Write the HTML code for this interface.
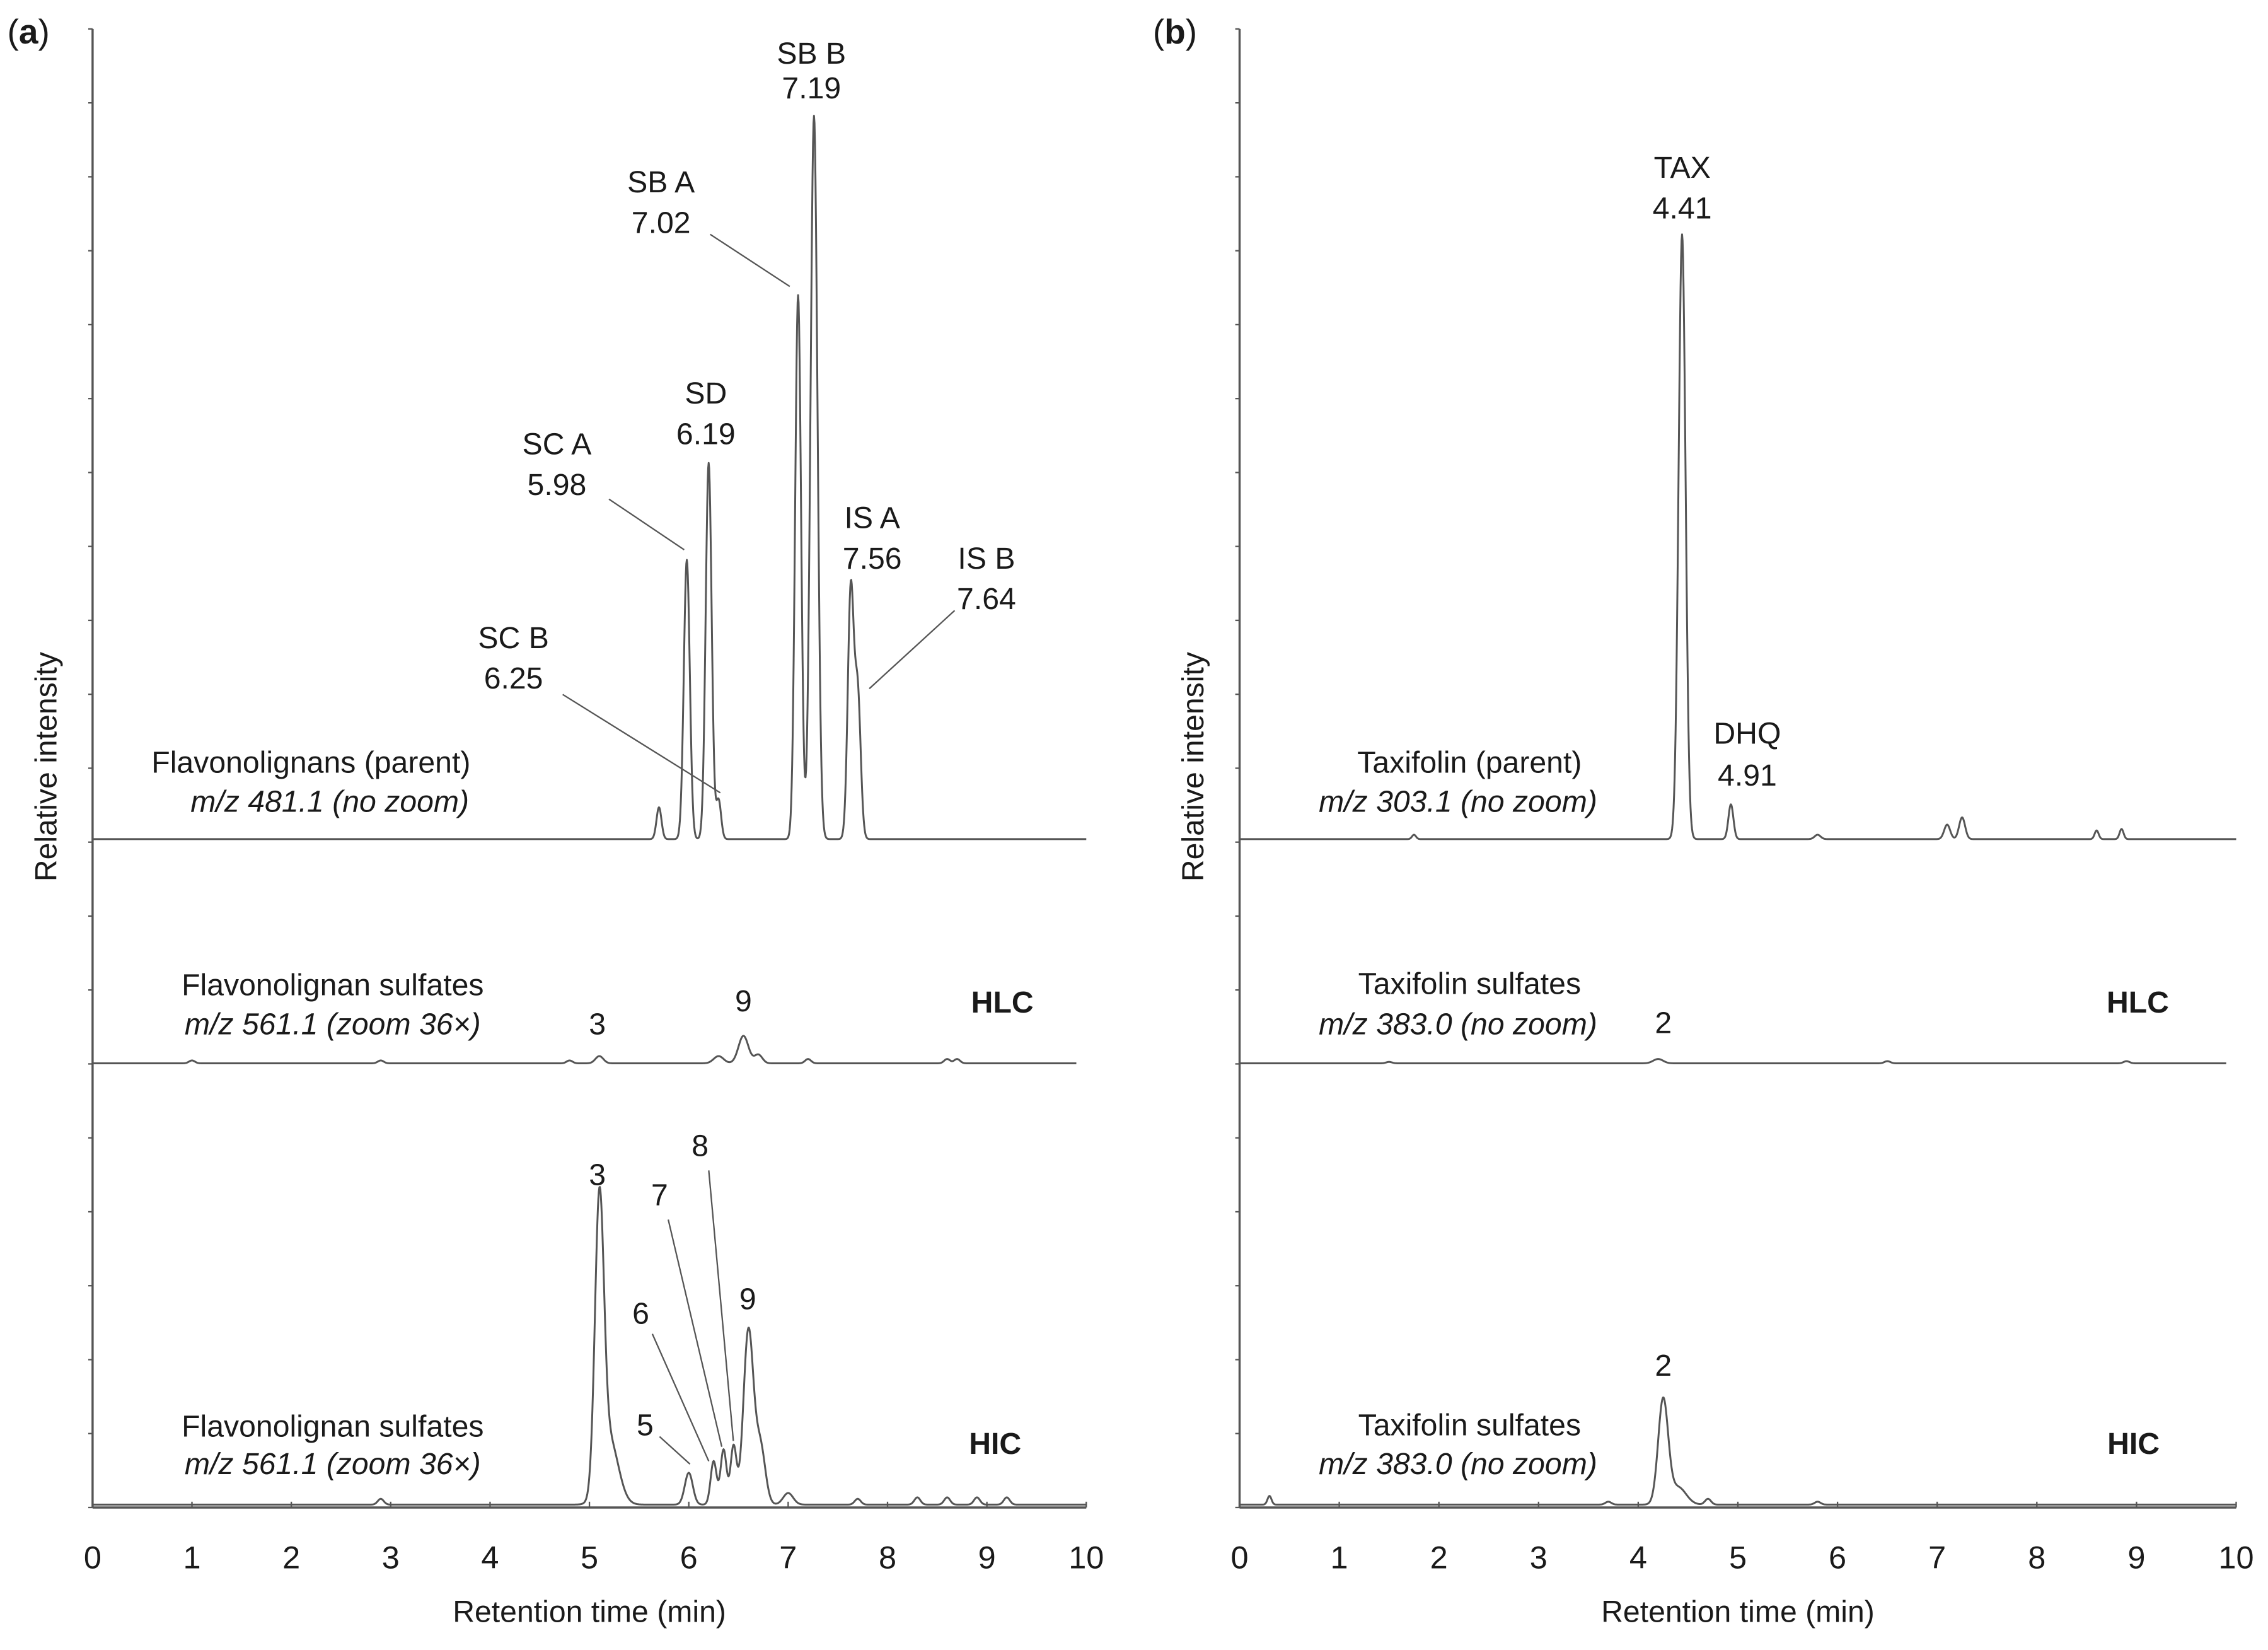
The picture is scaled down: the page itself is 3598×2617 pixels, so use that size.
<!DOCTYPE html>
<html><head><meta charset="utf-8">
<style>
html,body{margin:0;padding:0;background:#fff;}
svg{display:block;}
text{font-family:"Liberation Sans",Arial,sans-serif;fill:#1a1a1a;}
</style></head>
<body>
<svg id="fig" xmlns="http://www.w3.org/2000/svg" width="3598" height="2617" viewBox="0 0 1568 1140.5">
<g id="root"></g>
</svg>
<script>
// ----- data (retention time in min, relative intensity in arbitrary units) -----
const xTicks = [0,1,2,3,4,5,6,7,8,9,10];
// Panel (a) parent: flavonolignans
const aParentTimes = [5.70, 5.98, 6.20, 6.30, 7.10, 7.26, 7.63, 7.70];
const aParentHeights = [22, 193, 260, 27, 376, 500, 172, 100];
const aParentWidths = [0.025, 0.03, 0.03, 0.025, 0.03, 0.035, 0.03, 0.03];
// Panel (a) HLC sulfates
const aHlcTimes = [1.0, 2.9, 4.8, 5.1, 6.3, 6.55, 6.7, 7.2, 8.6, 8.7];
const aHlcHeights = [2, 2, 2, 5, 5, 19, 6, 3, 3, 3];
const aHlcWidths = [0.03, 0.03, 0.03, 0.04, 0.05, 0.05, 0.04, 0.03, 0.03, 0.03];
// Panel (a) HIC sulfates
const aHicTimes = [2.9, 5.10, 5.20, 6.00, 6.25, 6.35, 6.45, 6.60, 6.72, 7.0, 7.7, 8.3, 8.6, 8.9, 9.2];
const aHicHeights = [4, 195, 45, 22, 30, 38, 40, 120, 40, 8, 4, 5, 5, 5, 5];
const aHicWidths = [0.03, 0.045, 0.09, 0.04, 0.03, 0.03, 0.03, 0.05, 0.05, 0.05, 0.03, 0.03, 0.03, 0.03, 0.03];
// Panel (b) parent: taxifolin
const bParentTimes = [1.75, 4.44, 4.93, 5.8, 7.1, 7.25, 8.6, 8.85];
const bParentHeights = [3, 418, 24, 3, 10, 15, 6, 7];
const bParentWidths = [0.02, 0.035, 0.025, 0.03, 0.03, 0.03, 0.02, 0.02];
// Panel (b) HLC sulfates
const bHlcTimes = [1.5, 4.2, 6.5, 8.9];
const bHlcHeights = [1, 3, 1.5, 1.5];
const bHlcWidths = [0.03, 0.05, 0.03, 0.03];
// Panel (b) HIC sulfates
const bHicTimes = [0.3, 3.7, 4.25, 4.4, 4.7, 5.8];
const bHicHeights = [6, 2, 72, 12, 4, 2];
const bHicWidths = [0.02, 0.03, 0.05, 0.08, 0.03, 0.03];

const NS = "http://www.w3.org/2000/svg";
const root = document.getElementById('root');
function mk(tag, attrs, parent){
  const e = document.createElementNS(NS, tag);
  for (const k in attrs) e.setAttribute(k, attrs[k]);
  (parent||root).appendChild(e);
  return e;
}
function txt(s, x, y, opts, name){
  const t = mk('text', Object.assign({x:x, y:y, 'font-size':21, 'text-anchor':'middle'}, opts||{}));
  t.textContent = s;
  
  
  return t;
}
function line(x1,y1,x2,y2,name,w){
  const l = mk('line',{x1:x1,y1:y1,x2:x2,y2:y2,stroke:'#555','stroke-width':w||1});
  
  
  return l;
}
const panels = [
  {x0:64, x10:751, top:20, bottom:1042, label:'a', lx:5},
  {x0:857, x10:1546, top:20, bottom:1042, label:'b', lx:797}
];
function xs(p, t){ return p.x0 + (p.x10 - p.x0) * t / 10; }
function trace(p, base, times, heights, widths, tEnd, name){
  let d = '';
  for (let i = 0; i <= 2000; i++){
    const t = i * tEnd / 2000;
    let v = 0;
    for (let k = 0; k < times.length; k++){
      const z = (t - times[k]) / widths[k];
      v += heights[k] * Math.exp(-0.5 * z * z);
    }
    d += (i ? 'L' : 'M') + xs(p, t).toFixed(2) + ' ' + (base - v).toFixed(2);
  }
  const path = mk('path',{d:d, fill:'none', stroke:'#555', 'stroke-width':1.3, 'stroke-linejoin':'round'});
  
  
}
panels.forEach((p, pi) => {
  const pl = p.label;
  const lab = mk('text',{x:p.lx, y:30, 'font-size':24});
  
  
  lab.innerHTML = '(<tspan font-weight="bold">' + pl + '</tspan>)';
  line(p.x0, p.top, p.x0, p.bottom, 'y-axis-' + pl, 1.5);
  line(p.x0, p.bottom, p.x10, p.bottom, 'x-axis-' + pl, 1.5);
  for (let i = 0; i <= 20; i++){
    const y = p.top + (p.bottom - p.top) * i / 20;
    line(p.x0, y, p.x0 - 3, y, 'y-tick-' + pl, 1);
  }
  xTicks.forEach(v => {
    const x = xs(p, v);
    line(x, p.bottom, x, p.bottom - 4, 'x-tick-' + pl, 1);
    txt(String(v), x, 1084, {'font-size':22}, 'x-tick-label-' + pl);
  });
  txt('Retention time (min)', (p.x0 + p.x10) / 2, 1121, {'font-size':21}, 'x-axis-title-' + pl);
  txt('Relative intensity', 0, 0, {'font-size':21, transform:'translate(' + (p.x0 - 25) + ',530) rotate(-90)'}, 'y-axis-title-' + pl);
});
const A = panels[0], B = panels[1];
trace(A, 580, aParentTimes, aParentHeights, aParentWidths, 10, 'trace-flavonolignans-parent');
trace(A, 735, aHlcTimes, aHlcHeights, aHlcWidths, 9.9, 'trace-flavonolignan-sulfates-hlc');
trace(A, 1040, aHicTimes, aHicHeights, aHicWidths, 10, 'trace-flavonolignan-sulfates-hic');
trace(B, 580, bParentTimes, bParentHeights, bParentWidths, 10, 'trace-taxifolin-parent');
trace(B, 735, bHlcTimes, bHlcHeights, bHlcWidths, 9.9, 'trace-taxifolin-sulfates-hlc');
trace(B, 1040, bHicTimes, bHicHeights, bHicWidths, 10, 'trace-taxifolin-sulfates-hic');

const it = {'font-style':'italic'};
txt('Flavonolignans (parent)', 215, 534, {}, 'trace-label-flavonolignans-parent');
txt('m/z 481.1 (no zoom)', 228, 561, it, 'trace-mz-flavonolignans-parent');
txt('SB B', 561, 44, {}, 'peak-label-sb-b'); txt('7.19', 561, 68, {}, 'peak-time-sb-b');
txt('SB A', 457, 133, {}, 'peak-label-sb-a'); txt('7.02', 457, 161, {}, 'peak-time-sb-a');
txt('SD', 488, 279, {}, 'peak-label-sd'); txt('6.19', 488, 307, {}, 'peak-time-sd');
txt('SC A', 385, 314, {}, 'peak-label-sc-a'); txt('5.98', 385, 342, {}, 'peak-time-sc-a');
txt('IS A', 603, 365, {}, 'peak-label-is-a'); txt('7.56', 603, 393, {}, 'peak-time-is-a');
txt('IS B', 682, 393, {}, 'peak-label-is-b'); txt('7.64', 682, 421, {}, 'peak-time-is-b');
txt('SC B', 355, 448, {}, 'peak-label-sc-b'); txt('6.25', 355, 476, {}, 'peak-time-sc-b');
line(421,345,473,380,'leader-sc-a'); line(491,162,546,198,'leader-sb-a');
line(660,422,601,476,'leader-is-b'); line(389,480,498,548,'leader-sc-b');

txt('Flavonolignan sulfates', 230, 688, {}, 'trace-label-sulfates-hlc-a');
txt('m/z 561.1 (zoom 36×)', 230, 715, it, 'trace-mz-sulfates-hlc-a');
txt('3', 413, 715, {}, 'peak-label-3-hlc'); txt('9', 514, 699, {}, 'peak-label-9-hlc');
txt('HLC', 693, 700, {'font-weight':'bold'}, 'condition-label-hlc-a');

txt('Flavonolignan sulfates', 230, 993, {}, 'trace-label-sulfates-hic-a');
txt('m/z 561.1 (zoom 36×)', 230, 1019, it, 'trace-mz-sulfates-hic-a');
txt('3', 413, 819, {}, 'peak-label-3-hic'); txt('9', 517, 905, {}, 'peak-label-9-hic');
txt('8', 484, 799, {}, 'peak-label-8'); txt('7', 456, 833, {}, 'peak-label-7');
txt('6', 443, 915, {}, 'peak-label-6'); txt('5', 446, 992, {}, 'peak-label-5');
line(456,993,477,1012,'leader-5'); line(451,922,490,1010,'leader-6');
line(462,843,499,1000,'leader-7'); line(490,809,507,996,'leader-8');
txt('HIC', 688, 1005, {'font-weight':'bold'}, 'condition-label-hic-a');

txt('TAX', 1163, 123, {}, 'peak-label-tax'); txt('4.41', 1163, 151, {}, 'peak-time-tax');
txt('DHQ', 1208, 514, {}, 'peak-label-dhq'); txt('4.91', 1208, 543, {}, 'peak-time-dhq');
txt('Taxifolin (parent)', 1016, 534, {}, 'trace-label-taxifolin-parent');
txt('m/z 303.1 (no zoom)', 1008, 561, it, 'trace-mz-taxifolin-parent');
txt('Taxifolin sulfates', 1016, 687, {}, 'trace-label-sulfates-hlc-b');
txt('m/z 383.0 (no zoom)', 1008, 715, it, 'trace-mz-sulfates-hlc-b');
txt('2', 1150, 714, {}, 'peak-label-2-hlc');
txt('HLC', 1478, 700, {'font-weight':'bold'}, 'condition-label-hlc-b');
txt('Taxifolin sulfates', 1016, 992, {}, 'trace-label-sulfates-hic-b');
txt('m/z 383.0 (no zoom)', 1008, 1019, it, 'trace-mz-sulfates-hic-b');
txt('2', 1150, 951, {}, 'peak-label-2-hic');
txt('HIC', 1475, 1005, {'font-weight':'bold'}, 'condition-label-hic-b');
</script>
</body></html>
